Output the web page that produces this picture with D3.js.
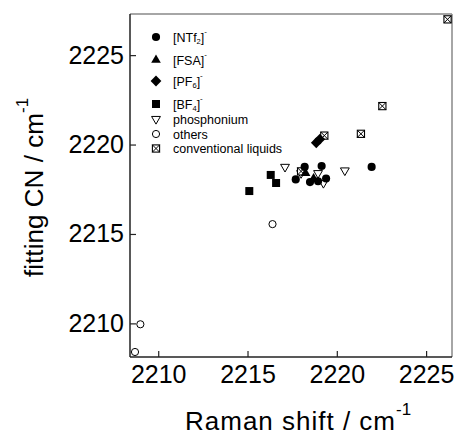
<!DOCTYPE html>
<html>
<head>
<meta charset="utf-8">
<script src="https://cdn.jsdelivr.net/npm/d3@7"></script>
<style>
  body { margin: 0; background: #fff; }
  svg text { font-family: "Liberation Sans", Arial, sans-serif; fill: #000; }
</style>
</head>
<body>
<div id="chart"></div>
<script>
// data: [Raman shift, fitting CN]
const ntf2 = [[2218.2, 2218.75], [2219.15, 2218.8], [2217.7, 2218.05], [2218.5, 2217.9],
              [2218.95, 2217.95], [2219.4, 2218.1], [2221.95, 2218.75]];
const fsa = [[2218.25, 2218.4], [2218.7, 2218.1]];
const pf6 = [[2218.85, 2220.1], [2219.05, 2220.3]];
const bf4 = [[2215.1, 2217.4], [2216.3, 2218.3], [2216.6, 2217.85]];
const phosphonium = [[2217.1, 2218.75], [2218.0, 2218.4], [2218.95, 2218.4], [2219.25, 2217.85], [2220.45, 2218.55]];
const others = [[2216.4, 2215.55], [2209.0, 2209.95], [2208.7, 2208.4]];
const conventional = [[2218.0, 2218.5], [2219.3, 2220.5], [2221.35, 2220.6], [2222.55, 2222.15], [2226.2, 2227.0]];

const xTicks = [2210, 2215, 2220, 2225];
const yTicks = [2210, 2215, 2220, 2225];

const width = 455, height = 437;
const mLeft = 130, mRight = 452, mTop = 14, mBottom = 357;

const svg = d3.select("#chart").append("svg")
  .attr("width", width)
  .attr("height", height);

const x = d3.scaleLinear().domain([2208.42, 2226.45]).range([mLeft, mRight]);
const y = d3.scaleLinear().domain([2208.12, 2227.3]).range([mBottom, mTop]);

// frame: top/right gray, left/bottom dark
svg.append("line").attr("x1", mLeft).attr("x2", mRight).attr("y1", mTop).attr("y2", mTop)
  .attr("stroke", "#888").attr("stroke-width", 1.5);
svg.append("line").attr("x1", mRight).attr("x2", mRight).attr("y1", mTop).attr("y2", mBottom)
  .attr("stroke", "#888").attr("stroke-width", 1.5);

const xAxis = svg.append("g")
  .attr("transform", `translate(0,${mBottom})`)
  .call(d3.axisBottom(x).tickValues(xTicks).tickFormat(d3.format("d")).tickSize(-6).tickPadding(8));
const yAxis = svg.append("g")
  .attr("transform", `translate(${mLeft},0)`)
  .call(d3.axisLeft(y).tickValues(yTicks).tickFormat(d3.format("d")).tickSize(-6).tickPadding(6));

[xAxis, yAxis].forEach(a => {
  a.select(".domain").attr("stroke", "#222").attr("stroke-width", 1.5);
  a.selectAll(".tick line").attr("stroke", "#222").attr("stroke-width", 1.2);
  a.selectAll("text").attr("font-size", 25).attr("font-family", "Liberation Sans, Arial, sans-serif");
});
// d3 draws the domain with outer ticks; remove them
xAxis.select(".domain").attr("d", `M${mLeft},0H${mRight}`);
yAxis.select(".domain").attr("d", `M0,${mBottom}V${mTop}`);

// axis titles
const xt = svg.append("text").attr("x", 185).attr("y", 430).attr("font-size", 26);
xt.append("tspan").attr("textLength", 210).text("Raman shift / cm");
xt.append("tspan").attr("dy", -15).attr("font-size", 17).text("-1");

const yt = svg.append("text")
  .attr("transform", "translate(43,277) rotate(-90)")
  .attr("font-size", 26);
yt.append("tspan").attr("textLength", 164).text("fitting CN / cm");
yt.append("tspan").attr("dy", -15).attr("font-size", 17).text("-1");

// marker painters
const sym = (type, size) => d3.symbol().type(type).size(size)();
const painters = {
  ntf2: g => g.append("path").attr("d", sym(d3.symbolCircle, 52)).attr("fill", "#000"),
  fsa: g => g.append("path").attr("d", sym(d3.symbolTriangle, 40)).attr("fill", "#000"),
  pf6: g => g.append("path").attr("d", sym(d3.symbolSquare, 58)).attr("transform", "rotate(45)").attr("fill", "#000"),
  bf4: g => g.append("path").attr("d", sym(d3.symbolSquare, 64)).attr("fill", "#000"),
  phosphonium: g => g.append("path").attr("d", sym(d3.symbolTriangle, 34)).attr("transform", "rotate(180)")
    .attr("fill", "#fff").attr("stroke", "#000").attr("stroke-width", 1),
  others: g => g.append("circle").attr("r", 3.6).attr("fill", "#fff").attr("stroke", "#000").attr("stroke-width", 1),
  conventional: g => {
    g.append("rect").attr("x", -3.6).attr("y", -3.6).attr("width", 7.2).attr("height", 7.2)
      .attr("fill", "#fff").attr("stroke", "#000").attr("stroke-width", 1.1);
    g.append("path").attr("d", "M-3.6,-3.6L3.6,3.6M3.6,-3.6L-3.6,3.6").attr("stroke", "#000").attr("stroke-width", 1);
  }
};

const series = [
  { key: "phosphonium", data: phosphonium },
  { key: "conventional", data: conventional },
  { key: "others", data: others },
  { key: "bf4", data: bf4 },
  { key: "pf6", data: pf6 },
  { key: "fsa", data: fsa },
  { key: "ntf2", data: ntf2 }
];

series.forEach(s => {
  svg.append("g").selectAll("g")
    .data(s.data)
    .enter()
    .append("g")
    .attr("transform", d => `translate(${x(d[0])},${y(d[1])})`)
    .each(function () { painters[s.key](d3.select(this)); });
});

// legend
const legendRows = [
  { key: "ntf2", label: ["[NTf", "2", "]", "-"], y: 37 },
  { key: "fsa", label: ["[FSA]", "", "", "-"], y: 60 },
  { key: "pf6", label: ["[PF", "6", "]", "-"], y: 81 },
  { key: "bf4", label: ["[BF", "4", "]", "-"], y: 104 },
  { key: "phosphonium", label: ["phosphonium"], y: 119 },
  { key: "others", label: ["others"], y: 134 },
  { key: "conventional", label: ["conventional liquids"], y: 148.5 }
];

const legend = svg.append("g");
legendRows.forEach(r => {
  const g = legend.append("g").attr("transform", `translate(156,${r.y})`);
  painters[r.key](g);
  const t = legend.append("text").attr("x", 173).attr("y", r.y + 4.5).attr("font-size", 12.5);
  t.append("tspan").text(r.label[0]);
  if (r.label.length > 1) {
    if (r.label[1]) t.append("tspan").attr("font-size", 7.5).attr("dy", 2.5).text(r.label[1]);
    if (r.label[2]) t.append("tspan").attr("dy", -2.5).text(r.label[2]);
    t.append("tspan").attr("font-size", 8).attr("dy", -8).text(r.label[3]);
  }
});
</script>
</body>
</html>
